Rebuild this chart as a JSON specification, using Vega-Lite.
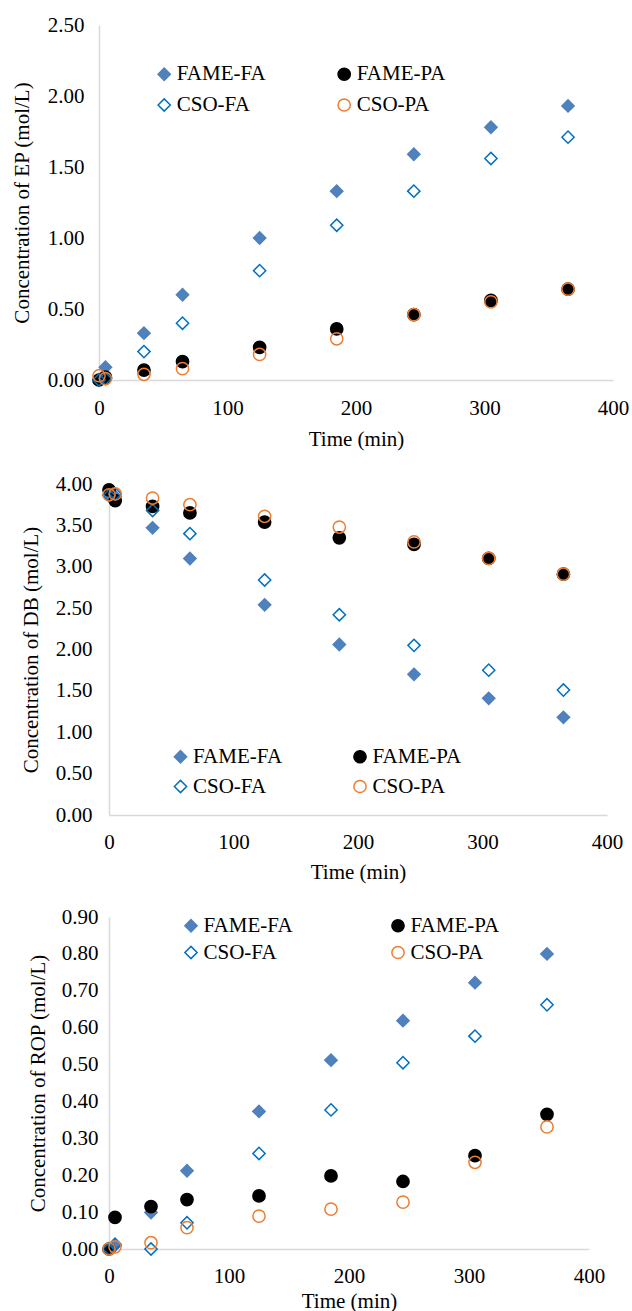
{
  "$schema": "https://vega.github.io/schema/vega-lite/v6.json",
  "background": "white",
  "padding": {"left": 11, "top": 14, "right": 0, "bottom": 0},
  "config": {
    "view": {"stroke": null},
    "font": "Liberation Serif",
    "style": {
      "guide-label": {"font": "Liberation Serif", "fontSize": 21, "fill": "#000000"},
      "guide-title": {"font": "Liberation Serif", "fontSize": 21, "fill": "#000000", "fontWeight": "normal"}
    },
    "axis": {
      "labelFont": "Liberation Serif", "titleFont": "Liberation Serif",
      "labelFontSize": 21, "titleFontSize": 21,
      "labelColor": "#000000", "titleColor": "#000000", "titleFontWeight": "normal",
      "labelFlush": false,
      "ticks": false, "tickSize": 0, "grid": false,
      "domainColor": "#d9d9d9", "domainWidth": 1.5
    },
    "legend": {
      "labelFont": "Liberation Serif", "labelFontSize": 21, "labelColor": "#000000",
      "symbolSize": 150, "symbolStrokeWidth": 1.5, "symbolOpacity": 1,
      "labelOffset": 2, "padding": 0, "labelLimit": 300
    }
  },
  "datasets": {
    "ep": [
      {"Time": 0, "Series": "FAME-FA", "Conc": 0.00},
      {"Time": 5, "Series": "FAME-FA", "Conc": 0.09},
      {"Time": 35, "Series": "FAME-FA", "Conc": 0.33},
      {"Time": 65, "Series": "FAME-FA", "Conc": 0.60},
      {"Time": 125, "Series": "FAME-FA", "Conc": 1.00},
      {"Time": 185, "Series": "FAME-FA", "Conc": 1.33},
      {"Time": 245, "Series": "FAME-FA", "Conc": 1.59},
      {"Time": 305, "Series": "FAME-FA", "Conc": 1.78},
      {"Time": 365, "Series": "FAME-FA", "Conc": 1.93},
      {"Time": 0, "Series": "FAME-PA", "Conc": 0.00},
      {"Time": 5, "Series": "FAME-PA", "Conc": 0.02},
      {"Time": 35, "Series": "FAME-PA", "Conc": 0.07},
      {"Time": 65, "Series": "FAME-PA", "Conc": 0.13},
      {"Time": 125, "Series": "FAME-PA", "Conc": 0.23},
      {"Time": 185, "Series": "FAME-PA", "Conc": 0.36},
      {"Time": 245, "Series": "FAME-PA", "Conc": 0.46},
      {"Time": 305, "Series": "FAME-PA", "Conc": 0.56},
      {"Time": 365, "Series": "FAME-PA", "Conc": 0.64},
      {"Time": 0, "Series": "CSO-FA", "Conc": 0.00},
      {"Time": 5, "Series": "CSO-FA", "Conc": 0.01},
      {"Time": 35, "Series": "CSO-FA", "Conc": 0.20},
      {"Time": 65, "Series": "CSO-FA", "Conc": 0.40},
      {"Time": 125, "Series": "CSO-FA", "Conc": 0.77},
      {"Time": 185, "Series": "CSO-FA", "Conc": 1.09},
      {"Time": 245, "Series": "CSO-FA", "Conc": 1.33},
      {"Time": 305, "Series": "CSO-FA", "Conc": 1.56},
      {"Time": 365, "Series": "CSO-FA", "Conc": 1.71},
      {"Time": 0, "Series": "CSO-PA", "Conc": 0.03},
      {"Time": 5, "Series": "CSO-PA", "Conc": 0.01},
      {"Time": 35, "Series": "CSO-PA", "Conc": 0.04},
      {"Time": 65, "Series": "CSO-PA", "Conc": 0.08},
      {"Time": 125, "Series": "CSO-PA", "Conc": 0.18},
      {"Time": 185, "Series": "CSO-PA", "Conc": 0.29},
      {"Time": 245, "Series": "CSO-PA", "Conc": 0.46},
      {"Time": 305, "Series": "CSO-PA", "Conc": 0.55},
      {"Time": 365, "Series": "CSO-PA", "Conc": 0.64}
    ],
    "db": [
      {"Time": 0, "Series": "FAME-FA", "Conc": 3.87},
      {"Time": 5, "Series": "FAME-FA", "Conc": 3.85},
      {"Time": 35, "Series": "FAME-FA", "Conc": 3.47},
      {"Time": 65, "Series": "FAME-FA", "Conc": 3.10},
      {"Time": 125, "Series": "FAME-FA", "Conc": 2.54},
      {"Time": 185, "Series": "FAME-FA", "Conc": 2.06},
      {"Time": 245, "Series": "FAME-FA", "Conc": 1.70},
      {"Time": 305, "Series": "FAME-FA", "Conc": 1.41},
      {"Time": 365, "Series": "FAME-FA", "Conc": 1.18},
      {"Time": 0, "Series": "FAME-PA", "Conc": 3.93},
      {"Time": 5, "Series": "FAME-PA", "Conc": 3.80},
      {"Time": 35, "Series": "FAME-PA", "Conc": 3.73},
      {"Time": 65, "Series": "FAME-PA", "Conc": 3.65},
      {"Time": 125, "Series": "FAME-PA", "Conc": 3.54},
      {"Time": 185, "Series": "FAME-PA", "Conc": 3.35},
      {"Time": 245, "Series": "FAME-PA", "Conc": 3.27},
      {"Time": 305, "Series": "FAME-PA", "Conc": 3.10},
      {"Time": 365, "Series": "FAME-PA", "Conc": 2.91},
      {"Time": 0, "Series": "CSO-FA", "Conc": 3.86},
      {"Time": 5, "Series": "CSO-FA", "Conc": 3.88},
      {"Time": 35, "Series": "CSO-FA", "Conc": 3.68},
      {"Time": 65, "Series": "CSO-FA", "Conc": 3.40},
      {"Time": 125, "Series": "CSO-FA", "Conc": 2.84},
      {"Time": 185, "Series": "CSO-FA", "Conc": 2.42},
      {"Time": 245, "Series": "CSO-FA", "Conc": 2.05},
      {"Time": 305, "Series": "CSO-FA", "Conc": 1.75},
      {"Time": 365, "Series": "CSO-FA", "Conc": 1.51},
      {"Time": 0, "Series": "CSO-PA", "Conc": 3.87},
      {"Time": 5, "Series": "CSO-PA", "Conc": 3.88},
      {"Time": 35, "Series": "CSO-PA", "Conc": 3.83},
      {"Time": 65, "Series": "CSO-PA", "Conc": 3.75},
      {"Time": 125, "Series": "CSO-PA", "Conc": 3.61},
      {"Time": 185, "Series": "CSO-PA", "Conc": 3.48},
      {"Time": 245, "Series": "CSO-PA", "Conc": 3.30},
      {"Time": 305, "Series": "CSO-PA", "Conc": 3.10},
      {"Time": 365, "Series": "CSO-PA", "Conc": 2.91}
    ],
    "rop": [
      {"Time": 0, "Series": "FAME-FA", "Conc": 0.000},
      {"Time": 5, "Series": "FAME-FA", "Conc": 0.010},
      {"Time": 35, "Series": "FAME-FA", "Conc": 0.099},
      {"Time": 65, "Series": "FAME-FA", "Conc": 0.212},
      {"Time": 125, "Series": "FAME-FA", "Conc": 0.373},
      {"Time": 185, "Series": "FAME-FA", "Conc": 0.512},
      {"Time": 245, "Series": "FAME-FA", "Conc": 0.619},
      {"Time": 305, "Series": "FAME-FA", "Conc": 0.722},
      {"Time": 365, "Series": "FAME-FA", "Conc": 0.800},
      {"Time": 0, "Series": "FAME-PA", "Conc": 0.000},
      {"Time": 5, "Series": "FAME-PA", "Conc": 0.086},
      {"Time": 35, "Series": "FAME-PA", "Conc": 0.115},
      {"Time": 65, "Series": "FAME-PA", "Conc": 0.134},
      {"Time": 125, "Series": "FAME-PA", "Conc": 0.144},
      {"Time": 185, "Series": "FAME-PA", "Conc": 0.198},
      {"Time": 245, "Series": "FAME-PA", "Conc": 0.183},
      {"Time": 305, "Series": "FAME-PA", "Conc": 0.253},
      {"Time": 365, "Series": "FAME-PA", "Conc": 0.365},
      {"Time": 0, "Series": "CSO-FA", "Conc": 0.000},
      {"Time": 5, "Series": "CSO-FA", "Conc": 0.013},
      {"Time": 35, "Series": "CSO-FA", "Conc": 0.000},
      {"Time": 65, "Series": "CSO-FA", "Conc": 0.071},
      {"Time": 125, "Series": "CSO-FA", "Conc": 0.259},
      {"Time": 185, "Series": "CSO-FA", "Conc": 0.377},
      {"Time": 245, "Series": "CSO-FA", "Conc": 0.505},
      {"Time": 305, "Series": "CSO-FA", "Conc": 0.577},
      {"Time": 365, "Series": "CSO-FA", "Conc": 0.662},
      {"Time": 0, "Series": "CSO-PA", "Conc": 0.000},
      {"Time": 5, "Series": "CSO-PA", "Conc": 0.006},
      {"Time": 35, "Series": "CSO-PA", "Conc": 0.017},
      {"Time": 65, "Series": "CSO-PA", "Conc": 0.058},
      {"Time": 125, "Series": "CSO-PA", "Conc": 0.089},
      {"Time": 185, "Series": "CSO-PA", "Conc": 0.108},
      {"Time": 245, "Series": "CSO-PA", "Conc": 0.127},
      {"Time": 305, "Series": "CSO-PA", "Conc": 0.235},
      {"Time": 365, "Series": "CSO-PA", "Conc": 0.331}
    ]
  },
  "spacing": 23,
  "resolve": {
    "scale": {"shape": "independent", "fill": "independent", "stroke": "independent"},
    "legend": {"shape": "independent", "fill": "independent", "stroke": "independent"}
  },
  "vconcat": [
    {
      "data": {"name": "ep"},
      "width": 504, "height": 355,
      "mark": {"type": "point", "size": 150, "opacity": 1, "strokeWidth": 1.5},
      "encoding": {
        "x": {"field": "Time", "type": "quantitative", "scale": {"domain": [0, 400], "nice": false, "range": [-10, 504]},
              "axis": {"values": [0, 100, 200, 300, 400], "title": "Time (min)", "labelPadding": 17.5, "titlePadding": 9.8}},
        "y": {"field": "Conc", "type": "quantitative", "scale": {"domain": [0, 2.5], "nice": false},
              "axis": {"values": [0, 0.5, 1, 1.5, 2, 2.5], "format": ".2f", "title": "Concentration of EP (mol/L)", "offset": 10, "labelPadding": 15, "titlePadding": 15}},
        "shape": {"field": "Series", "type": "nominal",
                  "scale": {"domain": ["FAME-FA", "CSO-FA", "FAME-PA", "CSO-PA"], "range": ["diamond", "diamond", "circle", "circle"]},
                  "legend": {"title": null, "orient": "none", "legendX": 44.7, "legendY": 38.5, "columns": 2, "columnPadding": 67, "rowPadding": 9}},
        "fill": {"field": "Series", "type": "nominal",
                 "scale": {"domain": ["FAME-FA", "CSO-FA", "FAME-PA", "CSO-PA"], "range": ["#4f81bd", "transparent", "#000000", "transparent"]},
                 "legend": {"title": null, "orient": "none", "legendX": 44.7, "legendY": 38.5, "columns": 2, "columnPadding": 67, "rowPadding": 9}},
        "stroke": {"field": "Series", "type": "nominal",
                   "scale": {"domain": ["FAME-FA", "CSO-FA", "FAME-PA", "CSO-PA"], "range": ["#4f81bd", "#0070c0", "#000000", "#ed7d31"]},
                   "legend": {"title": null, "orient": "none", "legendX": 44.7, "legendY": 38.5, "columns": 2, "columnPadding": 67, "rowPadding": 9}}
      }
    },
    {
      "data": {"name": "db"},
      "width": 498, "height": 331,
      "mark": {"type": "point", "size": 150, "opacity": 1, "strokeWidth": 1.5},
      "encoding": {
        "x": {"field": "Time", "type": "quantitative", "scale": {"domain": [0, 400], "nice": false},
              "axis": {"values": [0, 100, 200, 300, 400], "title": "Time (min)", "labelPadding": 16.5, "titlePadding": 8.8}},
        "y": {"field": "Conc", "type": "quantitative", "scale": {"domain": [0, 4], "nice": false},
              "axis": {"values": [0, 0.5, 1, 1.5, 2, 2.5, 3, 3.5, 4], "format": ".2f", "title": "Concentration of DB (mol/L)", "labelPadding": 17, "titlePadding": 13.8}},
        "shape": {"field": "Series", "type": "nominal",
                  "scale": {"domain": ["FAME-FA", "CSO-FA", "FAME-PA", "CSO-PA"], "range": ["diamond", "diamond", "circle", "circle"]},
                  "legend": {"title": null, "orient": "none", "legendX": 61, "legendY": 262, "columns": 2, "columnPadding": 66.5, "rowPadding": 8}},
        "fill": {"field": "Series", "type": "nominal",
                 "scale": {"domain": ["FAME-FA", "CSO-FA", "FAME-PA", "CSO-PA"], "range": ["#4f81bd", "transparent", "#000000", "transparent"]},
                 "legend": {"title": null, "orient": "none", "legendX": 61, "legendY": 262, "columns": 2, "columnPadding": 66.5, "rowPadding": 8}},
        "stroke": {"field": "Series", "type": "nominal",
                   "scale": {"domain": ["FAME-FA", "CSO-FA", "FAME-PA", "CSO-PA"], "range": ["#4f81bd", "#0070c0", "#000000", "#ed7d31"]},
                   "legend": {"title": null, "orient": "none", "legendX": 61, "legendY": 262, "columns": 2, "columnPadding": 66.5, "rowPadding": 8}}
      }
    },
    {
      "data": {"name": "rop"},
      "width": 480, "height": 332,
      "mark": {"type": "point", "size": 150, "opacity": 1, "strokeWidth": 1.5},
      "encoding": {
        "x": {"field": "Time", "type": "quantitative", "scale": {"domain": [0, 400], "nice": false},
              "axis": {"values": [0, 100, 200, 300, 400], "title": "Time (min)", "labelPadding": 16, "titlePadding": 4.5}},
        "y": {"field": "Conc", "type": "quantitative", "scale": {"domain": [0, 0.9], "nice": false},
              "axis": {"values": [0, 0.1, 0.2, 0.3, 0.4, 0.5, 0.6, 0.7, 0.8, 0.9], "format": ".2f", "title": "Concentration of ROP (mol/L)", "labelPadding": 11, "titlePadding": 12.5}},
        "shape": {"field": "Series", "type": "nominal",
                  "scale": {"domain": ["FAME-FA", "CSO-FA", "FAME-PA", "CSO-PA"], "range": ["diamond", "diamond", "circle", "circle"]},
                  "legend": {"title": null, "orient": "none", "legendX": 71.5, "legendY": -2, "columns": 2, "columnPadding": 94, "rowPadding": 5}},
        "fill": {"field": "Series", "type": "nominal",
                 "scale": {"domain": ["FAME-FA", "CSO-FA", "FAME-PA", "CSO-PA"], "range": ["#4f81bd", "transparent", "#000000", "transparent"]},
                 "legend": {"title": null, "orient": "none", "legendX": 71.5, "legendY": -2, "columns": 2, "columnPadding": 94, "rowPadding": 5}},
        "stroke": {"field": "Series", "type": "nominal",
                   "scale": {"domain": ["FAME-FA", "CSO-FA", "FAME-PA", "CSO-PA"], "range": ["#4f81bd", "#0070c0", "#000000", "#ed7d31"]},
                   "legend": {"title": null, "orient": "none", "legendX": 71.5, "legendY": -2, "columns": 2, "columnPadding": 94, "rowPadding": 5}}
      }
    }
  ]
}
